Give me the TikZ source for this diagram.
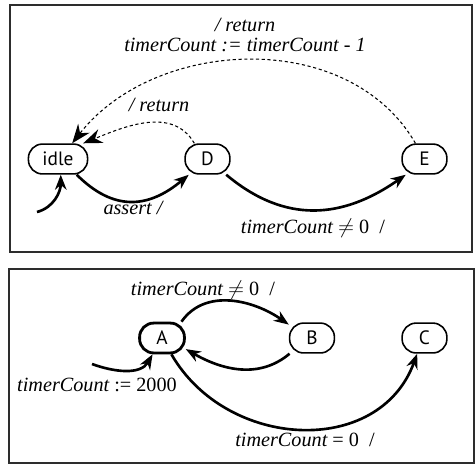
\documentclass[tikz,border=0pt]{standalone}
\usepackage{fontspec}
\setmainfont{Liberation Serif}
\setsansfont{PT Sans}
\usepackage{tikz}
\usetikzlibrary{arrows.meta}
\definecolor{framec}{RGB}{45,45,45}

\begin{document}
\begin{tikzpicture}[x=0.02cm,y=-0.02cm,>={Stealth[length=3mm,width=2.3mm]},
  stnode/.style={draw,line width=0.9pt,rounded corners=8pt,minimum width=25.5pt,
    minimum height=17pt,inner xsep=8pt,font=\sffamily\fontsize{11}{13}\selectfont},
  trans/.style={->,line width=1.5pt},
  ret/.style={-{Stealth[length=3.8mm,width=2.9mm,line width=1pt]},line width=0.6pt,
    dash pattern=on 1.8pt off 1.5pt},
  lbl/.style={font=\fontsize{11.5}{13}\selectfont\itshape}]
  \useasboundingbox (0,0) rectangle (475,464);
  % ---- TOP: idle / D / E ----
  \draw[framec,line width=1.1pt] (10,5) rectangle (472,252);
  \node[stnode] (idle) at (58,159) {idle};
  \node[stnode] (D) at (207.5,159) {D};
  \node[stnode] (E) at (424.5,159) {E};
  \coordinate (init1) at (37,212);
  \draw[trans] (init1) to[out=15,in=-90] (idle.-80);
  \draw[trans] (idle.-40) to[out=-45,in=-140,looseness=1.2] (D.-140);
  \draw[trans] (D.-40) to[out=-40,in=-145,looseness=1.1] (E.-140);
  \draw[ret] (D.130) to[out=120,in=22] (idle.32);
  \draw[ret] (E.120) to[out=120,in=52] (idle.48);
  \node[lbl] (lret1) at (245,25) {/ return};
  \node[lbl] (lcount) at (245,45) {timerCount := timerCount - 1};
  \node[lbl] (lret2) at (159,105) {/ return};
  \node[lbl] (lassert) at (133,208) {assert /};
  \node[lbl] (lneq1) at (313,228) {timerCount \upshape$\neq$ 0\ \ /};
  % ---- BOTTOM: A / B / C ----
  \draw[framec,line width=1.1pt] (9,269) rectangle (474,463);
  \node[stnode,line width=1.6pt] (A) at (162,338) {A};
  \node[stnode] (B) at (312,338) {B};
  \node[stnode] (C) at (424.5,338) {C};
  \coordinate (init2) at (92,364);
  \draw[trans] (init2) to[out=-20,in=-120] (A.-120);
  \draw[trans] (A.40) to[out=55,in=145] (B.150);
  \draw[trans] (B.-145) to[out=-140,in=-30] (A.-25);
  \draw[trans] (A.-60) to[out=-60,in=-110,looseness=1.15] (C.-115);
  \node[lbl] (lneq2) at (203,290) {timerCount \upshape$\neq$ 0\ \ /};
  \node[lbl] (linit) at (97,385) {timerCount \upshape:= 2000};
  \node[lbl] (leq) at (305,440) {timerCount \upshape= 0\ \ /};
\end{tikzpicture}
\end{document}
